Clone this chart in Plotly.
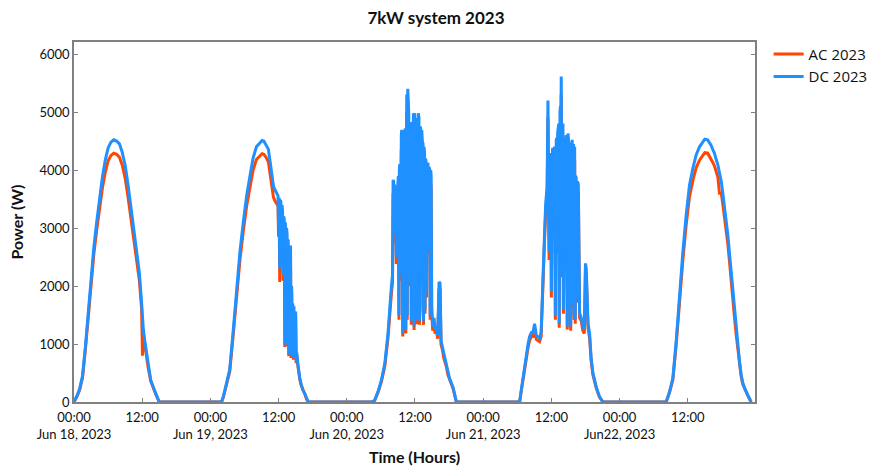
import pandas as pd
import plotly.graph_objects as go

# ---------------- data ----------------
days = ["2023-06-18", "2023-06-19", "2023-06-20", "2023-06-21", "2023-06-22"]

# hours after midnight for each day's samples
h1 = [0, 0.5, 1, 1.5, 2, 2.5, 3, 3.5, 4, 4.5, 5, 5.5, 6, 6.5, 7, 7.5, 8, 8.5, 9, 9.5,
      10, 10.5, 11, 11.5, 11.9, 12.05, 12.2, 12.5, 13, 13.5, 14, 14.5, 15]
dc1 = [0, 100, 230, 450, 950, 1550, 2130, 2680, 3110, 3520, 3880, 4170, 4380, 4480, 4520,
       4500, 4450, 4300, 4080, 3750, 3380, 2980, 2680, 2230, 1700, 1450, 1250, 1020, 660,
       380, 240, 120, 0]
ac1 = [0, 90, 210, 420, 900, 1480, 2040, 2560, 2970, 3350, 3690, 3960, 4160, 4250, 4290,
       4270, 4220, 4080, 3860, 3540, 3190, 2810, 2530, 2100, 1600, 800, 1180, 960, 620,
       360, 225, 110, 0]

h2 = [0, 1.97, 2.3, 2.85, 3.4, 4.0, 4.6, 5.2, 5.8, 6.4, 7.0, 7.5, 8.1, 8.7, 9.1, 9.4, 9.8,
      10.2, 10.5, 10.8, 11.1, 11.4, 11.7, 11.9, 12.0, 12.1, 12.2, 12.3, 12.4, 12.5, 12.6,
      12.7, 12.8, 12.9, 13.0, 13.1, 13.2, 13.3, 13.4, 13.5, 13.6, 13.7, 13.8, 13.9, 14.0,
      14.1, 14.2, 14.3, 14.4, 14.5, 14.6, 14.7, 14.8, 14.9, 15.0, 15.1, 15.2, 15.4, 15.6,
      15.75, 16.0, 16.3, 16.6, 16.9, 17.2]
dc2 = [0, 0, 100, 350, 560, 1210, 1960, 2590, 3110, 3570, 3920, 4200, 4400, 4470, 4510,
       4500, 4440, 4360, 4150, 3900, 3720, 3650, 3600, 3560, 3000, 3520, 2300, 3480, 3460,
       2600, 3400, 3300, 2200, 3200, 3150, 980, 3100, 1150, 3000, 2900, 1000, 2800, 820,
       2700, 1800, 2700, 800, 2000, 1100, 1700, 760, 1650, 900, 1200, 1560, 700, 850, 650,
       480, 400, 300, 200, 150, 60, 0]
ac2 = [0, 0, 90, 320, 520, 1140, 1850, 2450, 2950, 3390, 3720, 3990, 4180, 4250, 4280,
       4270, 4220, 4140, 3940, 3700, 3530, 3460, 3420, 3380, 2850, 3340, 2070, 3300, 3280,
       2470, 3230, 3130, 2090, 3040, 2990, 950, 2940, 1100, 2850, 2750, 960, 2660, 790,
       2560, 1710, 2560, 760, 1900, 1050, 1610, 730, 1570, 860, 1140, 1480, 670, 810, 620,
       450, 380, 280, 190, 140, 55, 0]

h3 = [0, 4.34, 4.9, 5.5, 6.1, 6.7, 7.25, 7.55, 7.85, 8.05,
      8.15, 8.25, 8.32, 8.4, 8.5, 8.62, 8.72, 8.85, 8.95, 9.08,
      9.18, 9.25, 9.32, 9.42, 9.5, 9.6, 9.67, 9.76, 9.85, 9.94,
      10.02, 10.1, 10.2, 10.29, 10.38, 10.47, 10.55, 10.64, 10.73, 10.82,
      10.9, 10.99, 11.08, 11.17, 11.26, 11.35, 11.43, 11.5, 11.55, 11.64,
      11.72, 11.78, 11.84, 11.9, 11.96, 12.05, 12.13, 12.2, 12.25, 12.34,
      12.43, 12.52, 12.6, 12.7, 12.78, 12.84, 12.93, 13.01, 13.1, 13.19,
      13.3, 13.42, 13.5, 13.6, 13.68, 13.77, 13.86, 13.95, 14.03, 14.12,
      14.2, 14.3, 14.41, 14.5, 14.59, 14.68, 14.77, 14.85, 14.94, 15.12,
      15.36, 15.53, 15.77, 16.0, 16.24, 16.41, 16.59, 16.83, 17.06, 17.3,
      17.52, 17.8, 18.1, 18.4, 18.7, 19.0, 19.28]
dc3 = [0, 0, 30, 180, 380, 670, 1180, 1640, 1990, 2200,
       3830, 3800, 2900, 3750, 3600, 3540, 2500, 3650, 3700, 3900,
       1500, 4000, 4100, 2200, 4500, 4600, 4690, 4650, 1190, 4650,
       4690, 2800, 4700, 4720, 1240, 5100, 5300, 1500, 5400, 5200,
       5000, 3000, 2070, 4800, 4800, 1400, 4810, 4700, 2620, 4900,
       4980, 3200, 1300, 4950, 4980, 2000, 4800, 4850, 1410, 4900,
       4900, 2400, 4980, 4900, 1400, 1830, 4750, 4700, 2200, 4690,
       4500, 4450, 1400, 4400, 4300, 1590, 4200, 4150, 1900, 4120,
       4100, 4100, 2620, 4050, 4000, 1500, 4000, 3900, 1640, 1300,
       1450, 1250, 1300, 1150, 2070, 2050, 1050, 950, 800, 720,
       650, 500, 400, 330, 250, 130, 0]
ac3 = [0, 0, 25, 165, 350, 620, 1100, 1540, 1870, 2060,
       3600, 3580, 2750, 3530, 3350, 3300, 2380, 3450, 3480, 3680,
       1420, 3770, 3870, 2090, 4250, 4340, 4420, 4380, 1130, 4380,
       4420, 2650, 4430, 4450, 1180, 4810, 4990, 1420, 5090, 4900,
       4710, 2840, 2000, 4530, 4530, 1330, 4540, 4430, 2550, 4620,
       4690, 3030, 1240, 4660, 4690, 1900, 4530, 4570, 1340, 4620,
       4620, 2280, 4690, 4620, 1330, 1640, 4480, 4430, 2090, 4420,
       4240, 1600, 1330, 4150, 4050, 1520, 3960, 3920, 1800, 3890,
       3870, 3870, 2550, 3820, 3780, 1420, 3780, 3680, 1560, 1230,
       1380, 1180, 1230, 1090, 1960, 1940, 990, 900, 760, 680,
       610, 470, 370, 310, 230, 120, 0]

h4 = [0, 6.42, 6.7, 7.0, 7.3, 7.59, 7.9, 8.17, 8.5, 8.76,
      9.05, 9.35, 9.65, 9.93, 10.2, 10.5, 10.8, 11.0, 11.1, 11.25,
      11.4, 11.5, 11.6, 11.69, 11.8, 11.9, 12.0, 12.1, 12.2, 12.28,
      12.37, 12.45, 12.53, 12.6, 12.7, 12.78, 12.86, 12.95, 13.03, 13.1,
      13.2, 13.3, 13.38, 13.45, 13.52, 13.6, 13.67, 13.74, 13.86, 13.95,
      14.04, 14.12, 14.2, 14.33, 14.42, 14.5, 14.62, 14.71, 14.8, 14.92,
      15.0, 15.1, 15.21, 15.3, 15.4, 15.55, 15.67, 15.73, 15.79, 15.9,
      16.0, 16.1, 16.2, 16.3, 16.38, 16.5, 16.6, 16.68, 16.75, 16.85,
      16.97, 17.25, 17.55, 17.8, 18.0, 18.14, 18.3, 18.45, 18.73, 19.0,
      19.31, 19.6, 19.9, 20.2, 20.48, 21.07]
dc4 = [0, 0, 200, 420, 650, 860, 1000, 1130, 1200, 1200,
       1350, 1150, 1120, 1100, 1200, 2220, 2900, 3425, 3500, 3700,
       5200, 3600, 2600, 4290, 4250, 4200, 1900, 4300, 4350, 4380,
       3200, 4300, 4350, 4400, 1500, 4450, 4520, 4550, 2700, 4630,
       4700, 4800, 1350, 4980, 5000, 5100, 4700, 5610, 2220, 4700,
       4800, 1600, 3300, 4200, 4350, 4400, 4600, 2400, 1300, 4630,
       4550, 4500, 4300, 2000, 1300, 4400, 4520, 1700, 4450, 4450,
       1500, 4400, 1420, 3900, 3850, 1800, 3800, 3780, 3750, 1650,
       1530, 1460, 1300, 1250, 2390, 2300, 1500, 1350, 1180, 760,
       500, 370, 260, 170, 90, 0]
ac4 = [0, 0, 185, 390, 610, 810, 940, 1060, 1130, 1130,
       1270, 1080, 1050, 1040, 1130, 2100, 2780, 3260, 3330, 3520,
       4900, 3420, 2450, 4070, 3950, 3950, 1800, 3950, 4130, 4150,
       3030, 3800, 4120, 4170, 1420, 4220, 4290, 4320, 2560, 4390,
       4460, 4550, 1280, 4720, 4740, 4830, 4460, 5300, 2150, 4460,
       4550, 1520, 3100, 3980, 4130, 4170, 4360, 2280, 1250, 4390,
       4320, 4270, 4080, 1900, 1230, 4170, 4290, 1620, 4220, 4220,
       1420, 4170, 1350, 3700, 3650, 1710, 3600, 3580, 3550, 1550,
       1450, 1400, 1230, 1180, 2260, 2180, 1420, 1280, 1100, 710,
       470, 345, 240, 155, 80, 0]

h5 = [0, 8.21, 8.8, 9.38, 9.96, 10.55, 11.14, 11.72, 12.31, 12.9, 13.48, 14.07, 14.65,
      15.0, 15.5, 15.82, 16.1, 16.41, 16.7, 17.0, 17.3, 17.58, 17.9, 18.17, 18.45, 18.75,
      19.05, 19.34, 19.65, 19.93, 20.2, 20.5, 20.8, 21.1, 21.4, 21.68, 22.0, 22.27, 22.57,
      22.86, 23.15]
dc5 = [0, 0, 180, 410, 1040, 1900, 2590, 3220, 3740, 4030, 4260, 4400, 4490, 4530, 4520,
       4470, 4430, 4350, 4290, 4180, 4090, 3950, 3800, 3600, 3400, 3150, 2880, 2570, 2250,
       1900, 1560, 1250, 980, 700, 470, 330, 240, 170, 120, 60, 0]
ac5 = [0, 0, 165, 380, 980, 1800, 2450, 3050, 3540, 3820, 4040, 4170, 4260, 4300, 4290,
       4240, 4200, 4130, 4070, 3960, 3880, 3600, 3600, 3410, 3220, 2980, 2730, 2430, 2130,
       1800, 1480, 1180, 930, 660, 440, 310, 225, 160, 110, 55, 0]

tick_times = ["2023-06-18 00:00", "2023-06-18 12:00", "2023-06-19 00:00", "2023-06-19 12:00",
              "2023-06-20 00:00", "2023-06-20 12:00", "2023-06-21 00:00", "2023-06-21 12:00",
              "2023-06-22 00:00", "2023-06-22 12:00"]
tick_labels = ["00:00<br>Jun 18, 2023", "12:00", "00:00<br>Jun 19, 2023", "12:00",
               "00:00<br>Jun 20, 2023", "12:00", "00:00<br>Jun 21, 2023", "12:00",
               "00:00<br>Jun22, 2023", "12:00"]

# ---------------- assemble ----------------
hours = [h1, h2, h3, h4, h5]
dcs = [dc1, dc2, dc3, dc4, dc5]
acs = [ac1, ac2, ac3, ac4, ac5]

t_all, dc_all, ac_all = [], [], []
for d, hh, dc, ac in zip(days, hours, dcs, acs):
    base = pd.Timestamp(d)
    t_all += [base + pd.Timedelta(hours=v) for v in hh]
    dc_all += dc
    ac_all += ac

fig = go.Figure()
fig.add_trace(go.Scatter(x=t_all, y=ac_all, mode="lines", name="AC 2023",
                         line=dict(color="#FF4500", width=3)))
fig.add_trace(go.Scatter(x=t_all, y=dc_all, mode="lines", name="DC 2023",
                         line=dict(color="#1E90FF", width=3)))

axis_line = "#808080"
fig.update_layout(
    width=872, height=466,
    margin=dict(l=74, r=117, t=42, b=64, autoexpand=False),
    paper_bgcolor="white", plot_bgcolor="white",
    title=dict(text="<b>7kW system 2023</b>", x=0.5, xanchor="center",
               y=1 - 18 / 466, yanchor="middle",
               font=dict(family="Lato", size=17, color="#111")),
    legend=dict(x=1.02, xanchor="left", y=1.012, yanchor="top",
                font=dict(family="Open Sans", size=15, color="#111"),
                tracegroupgap=0, bgcolor="rgba(0,0,0,0)"),
    xaxis=dict(
        type="date", automargin=False,
        range=["2023-06-18 00:00", "2023-06-22 23:50"],
        tickmode="array", tickvals=tick_times, ticktext=tick_labels,
        ticks="inside", ticklen=4, tickcolor=axis_line,
        ticklabelstandoff=3,
        showline=True, linecolor=axis_line, linewidth=1.5, mirror=True,
        showgrid=False, zeroline=False,
        tickfont=dict(family="Lato", size=13, color="#111"),
        title=dict(text="<b>Time (Hours)</b>", standoff=11,
                   font=dict(family="Lato", size=16, color="#111")),
    ),
    yaxis=dict(
        automargin=False,
        range=[0, 6207], dtick=1000, tick0=0,
        ticks="inside", ticklen=4, tickcolor=axis_line,
        showline=True, linecolor=axis_line, linewidth=1.5, mirror="ticks",
        showgrid=False, zeroline=False,
        tickfont=dict(family="Lato", size=13, color="#111"),
        title=dict(text="<b>Power (W)</b>", standoff=12,
                   font=dict(family="Lato", size=16, color="#111")),
    ),
)

fig.write_html("out.html")
